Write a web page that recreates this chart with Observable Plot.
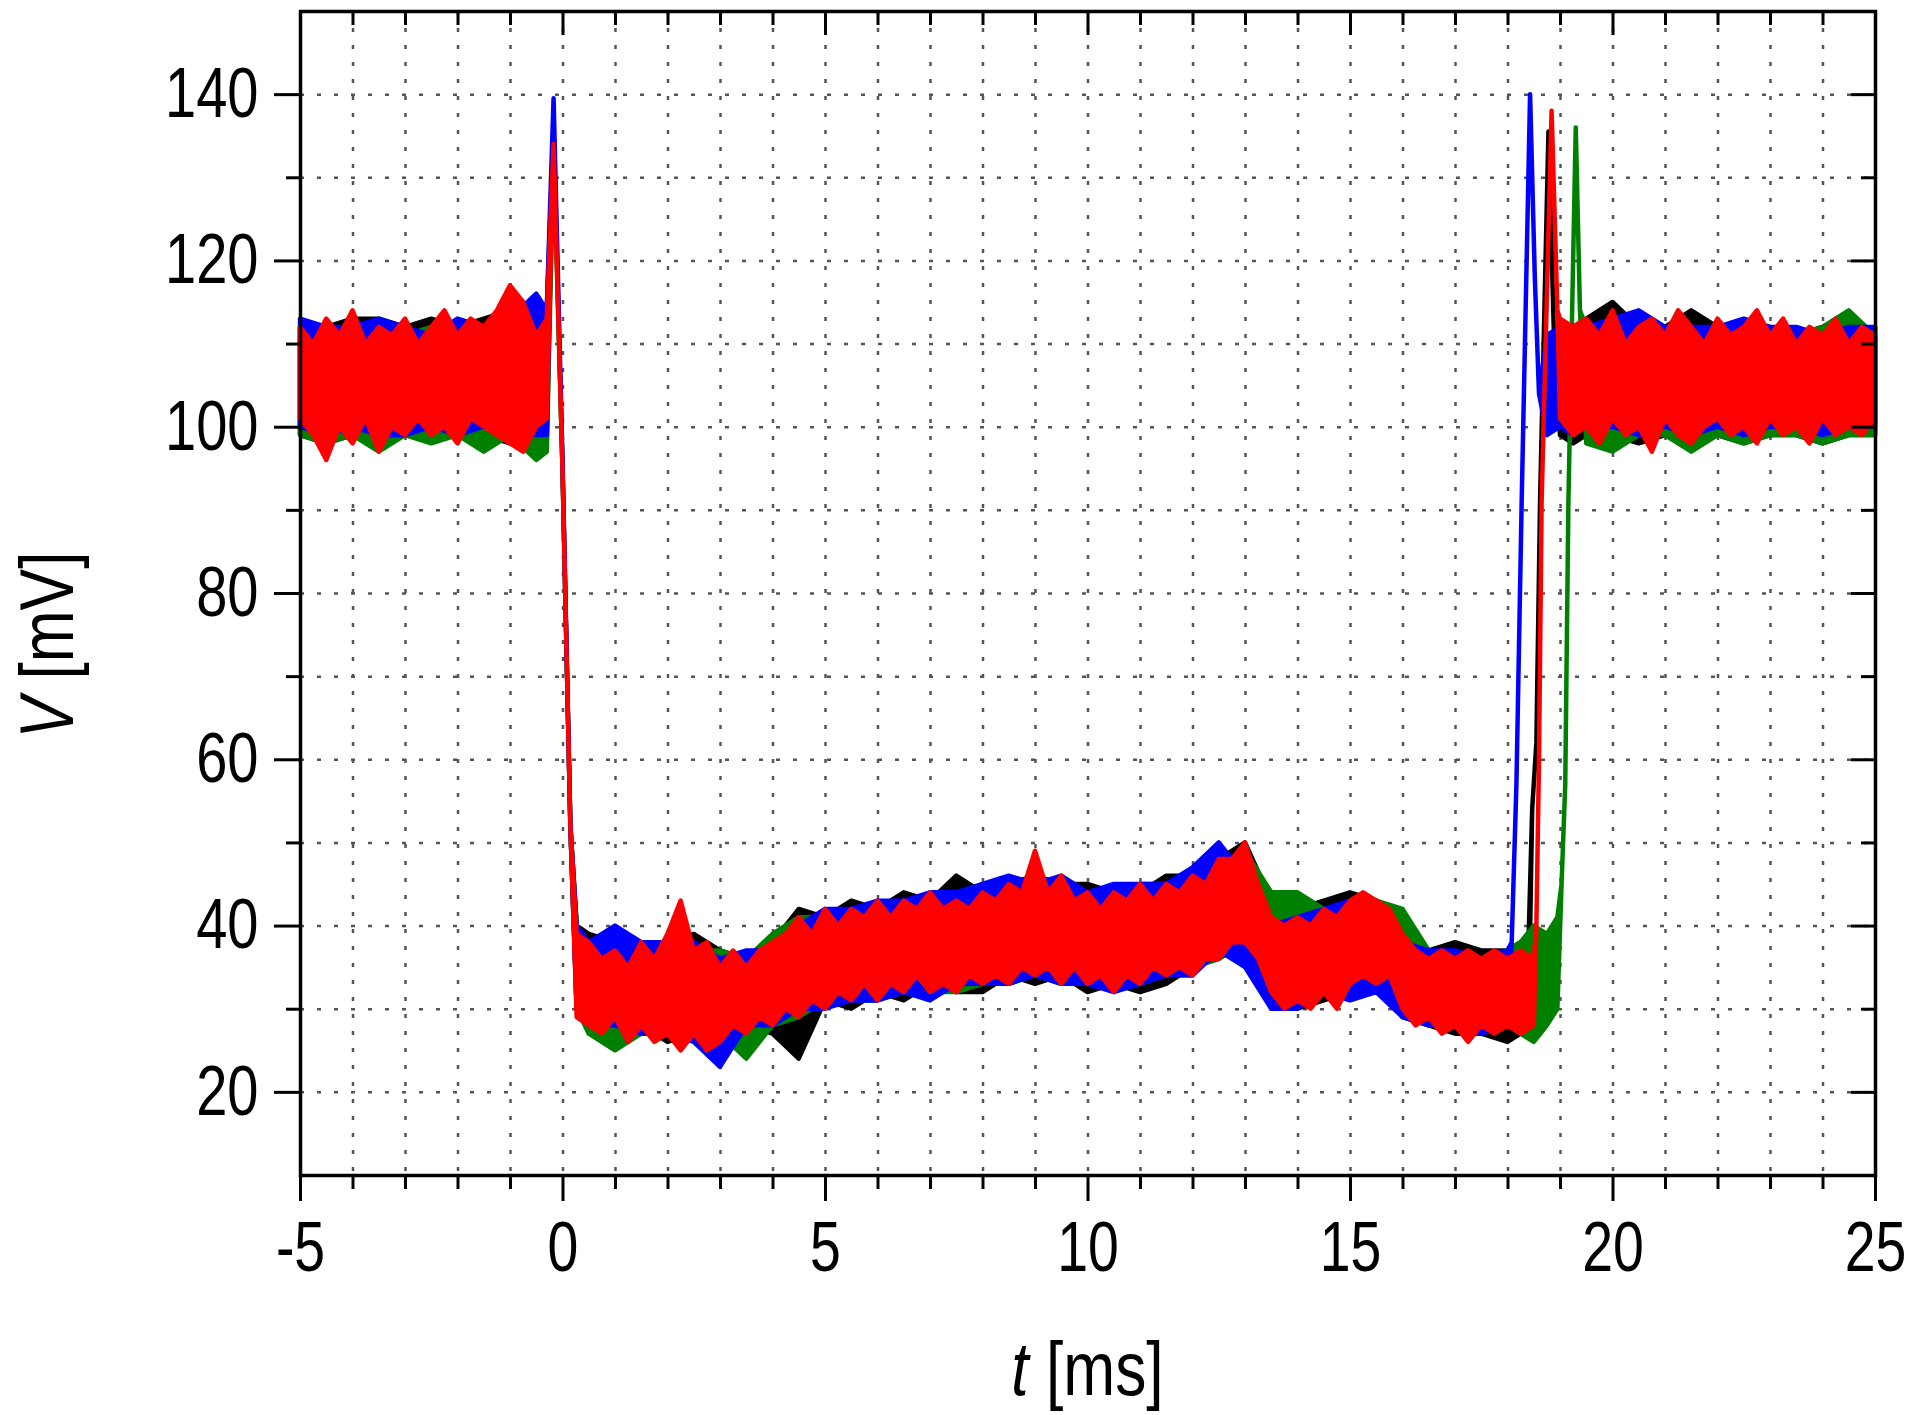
<!DOCTYPE html>
<html><head><meta charset="utf-8">
<script src="https://cdn.jsdelivr.net/npm/d3@7"></script>
<script src="https://cdn.jsdelivr.net/npm/@observablehq/plot@0.6"></script>
<style>
html,body{margin:0;padding:0;background:#fff;}
#chart{width:1931px;height:1415px;}
</style></head><body><div id="chart"></div>
<script>
// ---------- sampling instants (ms) ----------
const tPreQ  = [-5,-4.75,-4.5,-4.25,-4,-3.75,-3.5,-3.25,-3,-2.75,-2.5,-2.25,-2,-1.75,-1.5,-1.25,-1,-0.75,-0.5];
const tMidQ  = [0.5,0.75,1,1.25,1.5,1.75,2,2.25,2.5,2.75,3,3.25,3.5,3.75,4,4.25,4.5,4.75,5,5.25,5.5,5.75,6,6.25,6.5,6.75,7,7.25,7.5,7.75,8,8.25,8.5,8.75,9,9.25,9.5,9.75,10,10.25,10.5,10.75,11,11.25,11.5,11.75,12,12.25,12.5,12.75,13,13.25,13.5,13.75,14,14.25,14.5,14.75,15,15.25,15.5,15.75,16,16.25,16.5,16.75,17,17.25,17.5,17.75,18];
const tPostQ = [19.5,19.75,20,20.25,20.5,20.75,21,21.25,21.5,21.75,22,22.25,22.5,22.75,23,23.25,23.5,23.75,24,24.25,24.5,24.75,25];
const tPreH  = [-5,-4.5,-4,-3.5,-3,-2.5,-2,-1.5,-1,-0.5];
const tMidH  = [0.5,1,1.5,2,2.5,3,3.5,4,4.5,5,5.5,6,6.5,7,7.5,8,8.5,9,9.5,10,10.5,11,11.5,12,12.5,13,13.5,14,14.5,15,15.5,16,16.5,17,17.5,18];
const tPostH = [19.5,20,20.5,21,21.5,22,22.5,23,23.5,24,24.5,25];
const tLeft  = [-0.3,-0.17,0,0.15,0.27];

// ---------- red trace (V in mV, lower / upper edge of the noisy trace) ----------
const redPreLo = [101,99,96,100,98,101,97,100,99,101,99,100,98,101,100,99,98,97,100];
const redPreHi = [112,110,113,111,114,110,112,111,113,110,112,114,111,113,112,114,117,115,111];
const redLeftLo = [101,134,95,52,29];
const redLeftHi = [113,134,95,52,39];
const redMidLo = [28,27,29,26,28,26,27,25,27,25, 26,28,27,29,28,30,29,31,30,32, 31,33,31,33,32,34,32,33,32,34, 33,34,33,35,34,35,33,35,33,34, 32,34,33,35,34,35,34,36,36,38, 38,36,32,30,31,30,32,30,33,34, 33,34,30,28,29,27,28,26,28,27, 28];
const redMidHi = [38,36,37,35,38,36,39,43,37,38, 35,37,35,37,38,39,41,39,42,40, 42,41,43,41,43,42,44,42,43,42, 44,43,45,44,49,44,46,43,44,42, 44,43,45,43,45,44,46,45,48,48, 50,45,41,40,41,40,42,41,43,44, 43,42,39,37,36,37,36,37,36,37, 36];
const redRightT  = [18.25,18.5,18.55,18.6,18.65,18.84,18.95,19,19.25];
const redRightLo = [27,28,40,60,91,138,114,101,99];
const redRightHi = [37,36,40,60,91,138,114,113,112];
const redPostLo = [100,98,101,99,100,97,101,99,98,100,101,99,100,98,101,99,100,98,101,99,100,99,101];
const redPostHi = [113,111,114,110,112,113,111,114,112,110,113,111,112,114,111,113,110,112,111,113,110,112,111];

// ---------- black trace ----------
const blackPreLo = [99,98,99,98,100,99,99,99,98,97];
const blackPreHi = [112,112,113,113,112,113,112,113,114,114];
const blackLeftLo = [98,135.5,95,52,30];
const blackLeftHi = [114,135.5,95,52,40];
const blackMidLo = [29,27,28,26,27,27,28,27,24,31,30,32,31,33,32,32,34,33,34,32,33,32,33,35,36,38,31,30,31,32,33,29,28,27,27,26];
const blackMidHi = [39,38,37,38,39,37,36,38,42,41,43,42,44,43,46,44,45,46,45,45,44,44,46,46,48,50,43,42,43,44,43,39,37,38,37,37];
const blackRightT  = [18.25,18.4,18.47,18.55,18.62,18.78,18.88,19,19.25];
const blackRightLo = [27,28,54,62,91,135.5,112,99,98];
const blackRightHi = [38,38,54,62,91,135.5,112,112,112];
const blackPostLo = [99,99,98,99,98,99,98,99,99,98,99,99];
const blackPostHi = [113,115,112,112,114,112,112,112,111,112,111,112];

// ---------- blue trace ----------
const bluePreLo = [100,99,100,99,99,100,99,100,99,99];
const bluePreHi = [113,112,112,113,112,111,113,112,113,116];
const blueLeftLo = [99,139.5,96,52,30];
const blueLeftHi = [114,139.5,96,52,40];
const blueMidLo = [28,28,27,27,26,23,28,28,30,30,31,31,32,31,33,33,33,34,33,33,32,33,34,34,37,35,30,30,32,31,32,29,28,28,27,28];
const blueMidHi = [38,40,38,38,38,36,37,37,40,42,42,43,43,44,44,45,46,45,46,44,45,45,45,47,50,46,40,41,42,43,43,38,37,37,36,37];
const blueRightT  = [18.08,18.17,18.27,18.43,18.52,18.6,18.75,19,19.25];
const blueRightLo = [38,57,91,140,118,104,99,100,99];
const blueRightHi = [38,57,91,140,118,104,111,112,112];
const bluePostLo = [100,100,99,100,99,100,99,100,100,99,100,100];
const bluePostHi = [112,113,114,112,112,112,113,112,112,111,112,112];

// ---------- green trace ----------
const greenPreLo = [99,98,99,97,99,98,99,97,99,96];
const greenPreHi = [111,112,111,112,111,112,111,112,113,112];
const greenLeftLo = [97,133,95,52,30];
const greenLeftHi = [112,133,95,52,40];
const greenMidLo = [27,25,27,27,27,27,24,28,29,31,31,31,32,32,32,33,33,34,33,33,33,33,34,35,36,38,32,31,32,33,33,30,28,28,28,28];
const greenMidHi = [37,37,37,38,37,37,36,39,41,41,42,42,43,43,44,44,45,45,45,44,44,45,45,46,47,49,44,44,42,42,43,42,37,36,36,37];
const greenRightT  = [18.25,18.5,18.75,18.95,19.03,19.1,19.16,19.3,19.38];
const greenRightLo = [27,26,28,30,45,57,91,136,114];
const greenRightHi = [38,40,39,41,45,57,91,136,114];
const greenPostLo = [98,97,99,99,97,99,98,99,99,98,99,99];
const greenPostHi = [112,111,112,111,111,112,111,111,111,112,114,111];

// ---------- axes ----------
const xTicks = [-5,0,5,10,15,20,25];
const xMinor = [-4,-3,-2,-1,1,2,3,4,6,7,8,9,11,12,13,14,16,17,18,19,21,22,23,24];
const xGrid  = [-4,-3,-2,-1,0,1,2,3,4,5,6,7,8,9,10,11,12,13,14,15,16,17,18,19,20,21,22,23,24];
const yTicks = [20,40,60,80,100,120,140];
const yMinor = [30,50,70,90,110,130];
const yGrid  = [20,30,40,50,60,70,80,90,100,110,120,130,140];

function build(parts) {
  const rows = [];
  for (const [ts, lo, hi] of parts) ts.forEach((t, i) => rows.push({t, lo: lo[i], hi: hi[i]}));
  return rows;
}
const series = [
  {color: "#000000", rows: build([[tPreH, blackPreLo, blackPreHi],[tLeft, blackLeftLo, blackLeftHi],[tMidH, blackMidLo, blackMidHi],[blackRightT, blackRightLo, blackRightHi],[tPostH, blackPostLo, blackPostHi]])},
  {color: "#008000", rows: build([[tPreH, greenPreLo, greenPreHi],[tLeft, greenLeftLo, greenLeftHi],[tMidH, greenMidLo, greenMidHi],[greenRightT, greenRightLo, greenRightHi],[tPostH, greenPostLo, greenPostHi]])},
  {color: "#0000ff", rows: build([[tPreH, bluePreLo, bluePreHi],[tLeft, blueLeftLo, blueLeftHi],[tMidH, blueMidLo, blueMidHi],[blueRightT, blueRightLo, blueRightHi],[tPostH, bluePostLo, bluePostHi]])},
  {color: "#ff0000", rows: build([[tPreQ, redPreLo, redPreHi],[tLeft, redLeftLo, redLeftHi],[tMidQ, redMidLo, redMidHi],[redRightT, redRightLo, redRightHi],[tPostQ, redPostLo, redPostHi]])}
];

const W = 1931, H = 1415;
const mL = 300, mR = 56, mT = 11, mB = 240;
const FW = W - mL - mR, FH = H - mT - mB;
const FONT = "'Liberation Sans', Arial, Helvetica, sans-serif";
const gridStyle = {stroke: "#555", strokeOpacity: 1, strokeWidth: 2.5, strokeDasharray: "4,13"};

const plot = Plot.plot({
  width: W, height: H,
  marginLeft: mL, marginRight: mR, marginTop: mT, marginBottom: mB,
  style: {fontFamily: FONT, background: "#fff", color: "#000"},
  x: {domain: [-5, 25], label: null},
  y: {domain: [10, 150], label: null},
  marks: [
    Plot.gridX(xGrid, gridStyle),
    Plot.gridY(yGrid, gridStyle),
    ...series.map(s => Plot.areaY(s.rows, {x: "t", y1: "lo", y2: "hi", fill: s.color, stroke: s.color, strokeWidth: 4.5, strokeLinejoin: "round"})),
    Plot.frame({stroke: "#000", strokeWidth: 3.5}),
    Plot.tickX(xTicks, {x: d => d, insetTop: FH, insetBottom: -26, stroke: "#000", strokeWidth: 3}),
    Plot.tickX(xMinor, {x: d => d, insetTop: FH, insetBottom: -14, stroke: "#000", strokeWidth: 3}),
    Plot.tickX(xTicks, {x: d => d, insetBottom: FH - 24, stroke: "#000", strokeWidth: 3}),
    Plot.tickX(xMinor, {x: d => d, insetBottom: FH - 14, stroke: "#000", strokeWidth: 3}),
    Plot.tickY(yTicks, {y: d => d, insetRight: FW, insetLeft: -26, stroke: "#000", strokeWidth: 3}),
    Plot.tickY(yMinor, {y: d => d, insetRight: FW, insetLeft: -14, stroke: "#000", strokeWidth: 3}),
    Plot.tickY(yTicks, {y: d => d, insetLeft: FW - 24, stroke: "#000", strokeWidth: 3}),
    Plot.tickY(yMinor, {y: d => d, insetLeft: FW - 14, stroke: "#000", strokeWidth: 3}),
    Plot.axisX(xTicks, {tickSize: 0, tickPadding: 45, fontSize: 71, tickFormat: d => String(d), label: null}),
    Plot.axisY(yTicks, {tickSize: 0, tickPadding: 42, fontSize: 70, tickFormat: d => String(d), label: null})
  ]
});
document.getElementById("chart").appendChild(plot);

const svg = d3.select(plot);
// narrow the Arial-like glyphs horizontally, as in the reference
svg.selectAll('g[aria-label="x-axis tick label"] text').each(function() {
  const tr = this.getAttribute("transform") || "";
  this.setAttribute("transform", tr + " scale(0.78,1)");
});
svg.selectAll('g[aria-label="y-axis tick label"] text').each(function() {
  const tr = this.getAttribute("transform") || "";
  this.setAttribute("transform", tr + " scale(0.8,1)");
});
const xl = svg.append("text").attr("transform", `translate(${mL + FW / 2},1395) scale(0.82,1)`).attr("text-anchor", "middle")
  .style("font-family", FONT).style("font-size", "76px").attr("fill", "#000");
xl.append("tspan").style("font-style", "italic").text("t");
xl.append("tspan").text(" [ms]");
const yl = svg.append("text").attr("transform", "translate(73,645) rotate(-90) scale(0.82,1)").attr("text-anchor", "middle")
  .style("font-family", FONT).style("font-size", "76px").attr("fill", "#000");
yl.append("tspan").style("font-style", "italic").text("V");
yl.append("tspan").text(" [mV]");
</script>
</body></html>
